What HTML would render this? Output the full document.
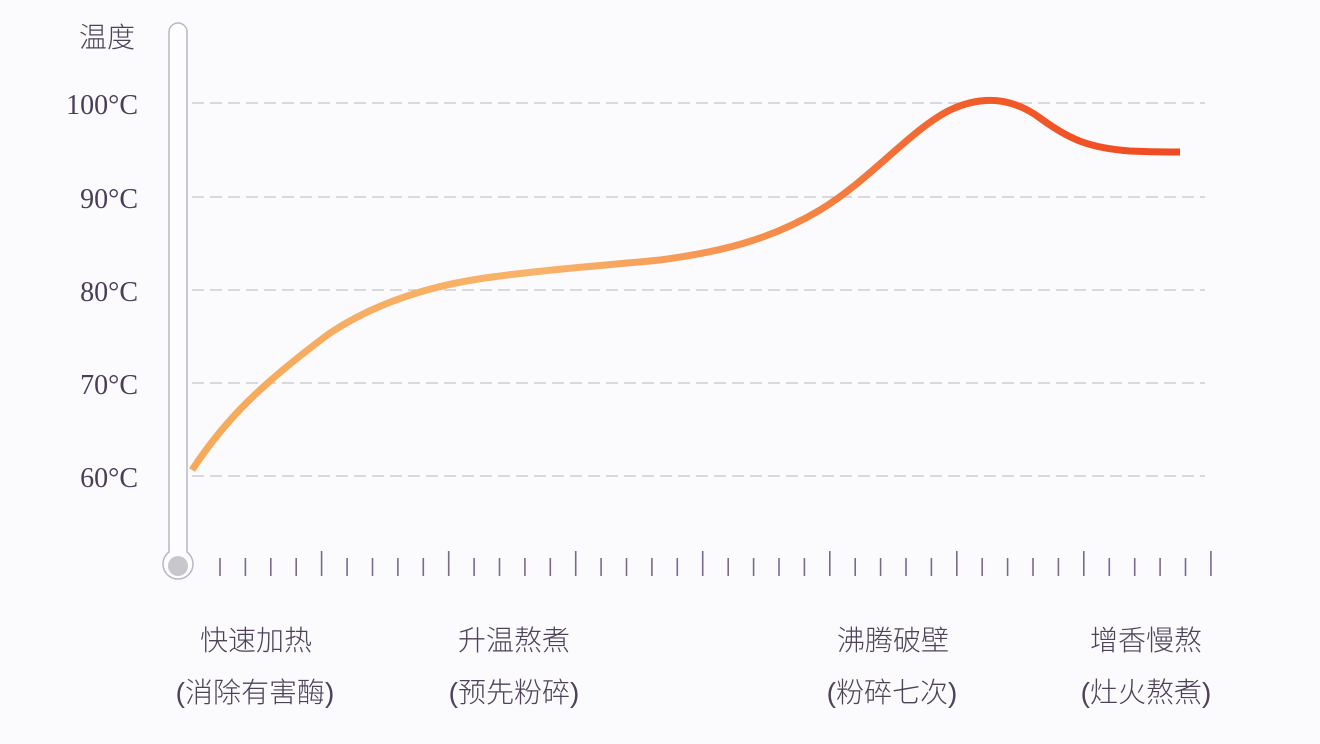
<!DOCTYPE html>
<html><head><meta charset="utf-8"><style>
html,body{margin:0;padding:0;background:#fbfbfe;}
svg{display:block}
text{font-family:"Liberation Sans","Noto Sans CJK SC",sans-serif;fill:#4d4258;}
.y{font-family:"Liberation Serif","Noto Serif CJK SC",serif;font-size:28px;fill:#4a3d58;}
.c{font-size:28px;font-weight:300;}
</style></head><body>
<svg width="1320" height="744" viewBox="0 0 1320 744" xmlns="http://www.w3.org/2000/svg">
<defs>
<linearGradient id="g" x1="192" y1="0" x2="1180" y2="0" gradientUnits="userSpaceOnUse">
<stop offset="0" stop-color="#f6a95a"/>
<stop offset="0.35" stop-color="#f8b36a"/>
<stop offset="0.6" stop-color="#f58a48"/>
<stop offset="0.8" stop-color="#f25a28"/>
<stop offset="1" stop-color="#f04a22"/>
</linearGradient>
</defs>
<rect width="1320" height="744" fill="#fbfbfe"/>
<g stroke="#c4c4cc" stroke-width="1.2" stroke-dasharray="12,6">
<line x1="192" y1="103" x2="1205" y2="103"/>
<line x1="192" y1="197" x2="1205" y2="197"/>
<line x1="192" y1="290" x2="1205" y2="290"/>
<line x1="192" y1="383" x2="1205" y2="383"/>
<line x1="192" y1="476" x2="1205" y2="476"/>
</g>
<path d="M169 32 A9 9 0 0 1 187 32 L187 552 A15 15 0 1 1 169 552 Z" fill="#fdfdff" stroke="#b8b8c4" stroke-width="1.5"/>
<circle cx="178" cy="566" r="10" fill="#c8c8cc"/>
<text x="107" y="47" class="c" text-anchor="middle">温度</text>
<text x="138" y="114" class="y" text-anchor="end">100°C</text>
<text x="138" y="208" class="y" text-anchor="end">90°C</text>
<text x="138" y="301" class="y" text-anchor="end">80°C</text>
<text x="138" y="394" class="y" text-anchor="end">70°C</text>
<text x="138" y="487" class="y" text-anchor="end">60°C</text>
<g stroke="#7a6a8a" stroke-width="1.6">
<line x1="220.0" x2="220.0" y1="558" y2="576"/><line x1="245.4" x2="245.4" y1="558" y2="576"/><line x1="270.8" x2="270.8" y1="558" y2="576"/><line x1="296.2" x2="296.2" y1="558" y2="576"/><line x1="321.6" x2="321.6" y1="551" y2="576"/>
<line x1="347.1" x2="347.1" y1="558" y2="576"/><line x1="372.5" x2="372.5" y1="558" y2="576"/><line x1="397.9" x2="397.9" y1="558" y2="576"/><line x1="423.3" x2="423.3" y1="558" y2="576"/><line x1="448.7" x2="448.7" y1="551" y2="576"/>
<line x1="474.1" x2="474.1" y1="558" y2="576"/><line x1="499.5" x2="499.5" y1="558" y2="576"/><line x1="524.9" x2="524.9" y1="558" y2="576"/><line x1="550.3" x2="550.3" y1="558" y2="576"/><line x1="575.7" x2="575.7" y1="551" y2="576"/>
<line x1="601.1" x2="601.1" y1="558" y2="576"/><line x1="626.5" x2="626.5" y1="558" y2="576"/><line x1="651.9" x2="651.9" y1="558" y2="576"/><line x1="677.3" x2="677.3" y1="558" y2="576"/><line x1="702.7" x2="702.7" y1="551" y2="576"/>
<line x1="728.2" x2="728.2" y1="558" y2="576"/><line x1="753.6" x2="753.6" y1="558" y2="576"/><line x1="779.0" x2="779.0" y1="558" y2="576"/><line x1="804.4" x2="804.4" y1="558" y2="576"/><line x1="829.8" x2="829.8" y1="551" y2="576"/>
<line x1="855.2" x2="855.2" y1="558" y2="576"/><line x1="880.6" x2="880.6" y1="558" y2="576"/><line x1="906.0" x2="906.0" y1="558" y2="576"/><line x1="931.4" x2="931.4" y1="558" y2="576"/><line x1="956.8" x2="956.8" y1="551" y2="576"/>
<line x1="982.2" x2="982.2" y1="558" y2="576"/><line x1="1007.6" x2="1007.6" y1="558" y2="576"/><line x1="1033.0" x2="1033.0" y1="558" y2="576"/><line x1="1058.4" x2="1058.4" y1="558" y2="576"/><line x1="1083.8" x2="1083.8" y1="551" y2="576"/>
<line x1="1109.3" x2="1109.3" y1="558" y2="576"/><line x1="1134.7" x2="1134.7" y1="558" y2="576"/><line x1="1160.1" x2="1160.1" y1="558" y2="576"/><line x1="1185.5" x2="1185.5" y1="558" y2="576"/><line x1="1210.9" x2="1210.9" y1="551" y2="576"/>
</g>
<path d="M192 470 C225 420 260 385 330 333 C380 300 440 283 500 276 C560 268 600 266 660 260 C720 252 770 240 820 210 C870 180 910 130 950 110 C980 96 1010 96 1040 118 C1070 140 1090 148 1130 151 C1150 152 1170 152 1180 152" fill="none" stroke="url(#g)" stroke-width="7"/>
<g text-anchor="middle">
<text x="256" y="650" class="c">快速加热</text>
<text x="255" y="702" class="c">(消除有害酶)</text>
<text x="514" y="650" class="c">升温熬煮</text>
<text x="514" y="702" class="c">(预先粉碎)</text>
<text x="893" y="650" class="c">沸腾破壁</text>
<text x="892" y="702" class="c">(粉碎七次)</text>
<text x="1146" y="650" class="c">增香慢熬</text>
<text x="1146" y="702" class="c">(灶火熬煮)</text>
</g>
</svg>
</body></html>
